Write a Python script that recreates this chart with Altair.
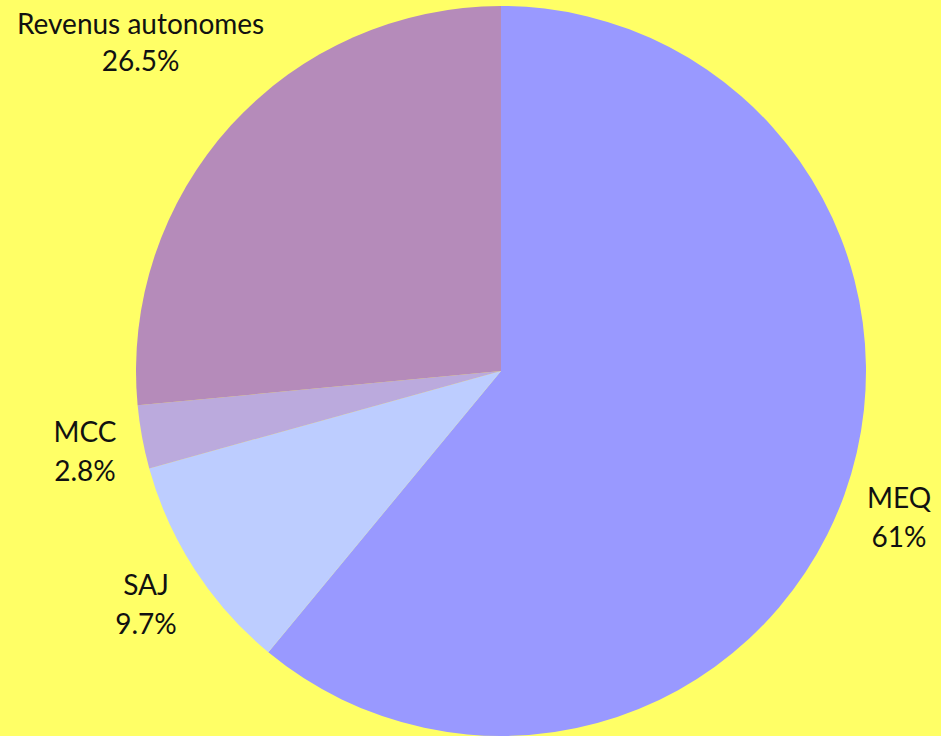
import altair as alt
import pandas as pd

categories = ["MEQ", "SAJ", "MCC", "Revenus autonomes"]
values = [61.0, 9.7, 2.8, 26.5]
value_labels = ["61%", "9.7%", "2.8%", "26.5%"]
colors = ["#9999FF", "#BDCDFF", "#BBAADD", "#B58BBA"]

df = pd.DataFrame({
    "cat": categories,
    "value": values,
    "label": [f"{c}\n{v}" for c, v in zip(categories, value_labels)],
    "order": list(range(len(categories))),
})

CX, CY, R = 501, 371, 365
FONT = "Lato"
TOTAL = sum(values)

pie = alt.Chart(df).mark_arc(outerRadius=R, stroke=None).encode(
    theta=alt.Theta("value:Q", stack=True, scale=alt.Scale(domain=[0, TOTAL])),
    order=alt.Order("order:Q"),
    color=alt.Color("cat:N", scale=alt.Scale(domain=categories, range=colors), legend=None),
    x=alt.value(CX),
    y=alt.value(CY),
)

text_style = dict(fontSize=28, font=FONT, color="#111111", align="center",
                  baseline="middle", lineBreak="\n", lineHeight=39)

text_base = alt.Chart(df).transform_window(
    cum="sum(value)", sort=[alt.SortField("order")], frame=[None, 0]
).transform_calculate(
    mid="datum.cum - datum.value / 2"
).encode(
    theta=alt.Theta("mid:Q", stack=None, scale=alt.Scale(domain=[0, TOTAL])),
    text="label:N",
    x=alt.value(CX),
    y=alt.value(CY),
)

labels = text_base.mark_text(radius=423, dy=-14, **text_style).transform_filter(
    alt.datum.cat != "Revenus autonomes")

label_rev = text_base.mark_text(radius=490, dx=2, dy=-15, lineHeight=37,
                                **{k: v for k, v in text_style.items() if k != "lineHeight"}).transform_filter(
    alt.datum.cat == "Revenus autonomes")

chart = alt.layer(pie, labels, label_rev).properties(
    width=941, height=736, padding=0, autosize=alt.AutoSizeParams(type="none"),
    background="#FFFF66",
).configure_view(stroke=None)

chart.save("out.html", embed_options={
    "renderer": "svg", "actions": False,
    "defaultStyle": "html,body{margin:0;padding:0;overflow:hidden;background:#FFFF66}",
})
